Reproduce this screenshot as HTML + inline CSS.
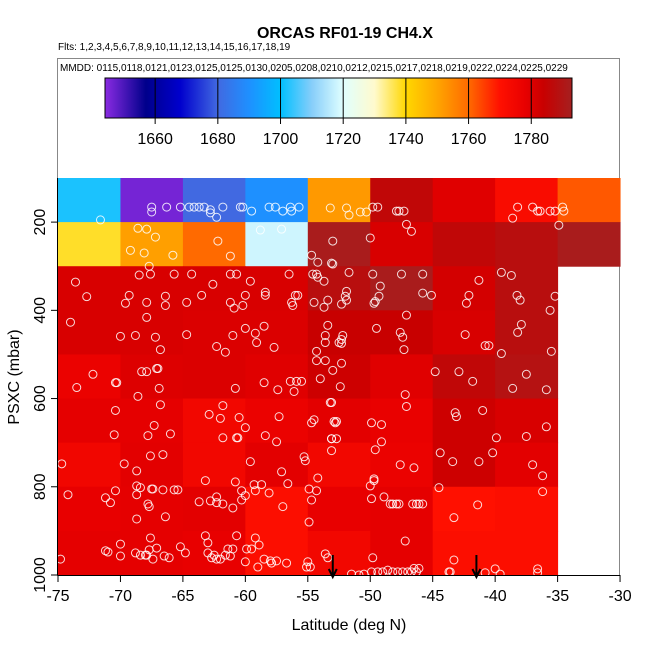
<!DOCTYPE html>
<html><head><meta charset="utf-8"><style>
body{margin:0;background:#fff;}
svg{display:block;font-family:"Liberation Sans",Arial,sans-serif;}
</style></head><body>
<svg id="chart" width="650" height="650" viewBox="0 0 650 650">
<defs><linearGradient id="cbgrad" x1="0" x2="1" y1="0" y2="0"></linearGradient></defs>
<text x="345" y="38" text-anchor="middle" font-size="16" font-weight="bold">ORCAS RF01-19 CH4.X</text>
<text x="58" y="50" font-size="10">Flts: 1,2,3,4,5,6,7,8,9,10,11,12,13,14,15,16,17,18,19</text>
<rect x="57.5" y="58.5" width="562" height="517" fill="none" stroke="#888"/>
<text x="60" y="71" font-size="10">MMDD: 0115,0118,0121,0123,0125,0125,0130,0205,0208,0210,0212,0215,0217,0218,0219,0222,0224,0225,0229</text>
<g id="cells"></g>
<g id="points"></g>
<g id="cbar"></g>
<g id="axes"></g>
<text x="349" y="630" text-anchor="middle" font-size="16">Latitude (deg N)</text>
<text transform="translate(19,377) rotate(-90)" text-anchor="middle" font-size="16">PSXC (mbar)</text>
</svg>
<script>
const latBins = [-75,-70,-65,-60,-55,-50,-45,-40,-35];
const presBins = [100,200,300,400,500,600,700,800,900];
const gridRow0 = [1702,1646,1680,1690,1752,1786,1779.5,1772,1762];
const gridRow1 = [1738,1751,1760,1718,1792,1781,1786,1788,1792];
const gridRow2 = [1781,1781,1781,1781,1788,1792,1782,1788,null];
const gridRow3 = [1781,1781,1780.5,1780.5,1784,1784,1781,1788,null];
const gridRow4 = [1777,1780,1780.5,1779.5,1783,1779.5,1786,1789,null];
const gridRow5 = [1778.5,1778.5,1774.5,1777,1779,1777.5,1783,1781,null];
const gridRow6 = [1775,1779,1774.5,1779,1774.5,1777,1783,1779,null];
const gridRow7 = [1778,1778.5,1779,1771,1778,1778.5,1770,1771,null];
const gridRow8 = [1778.5,1778.5,1778,1771,1774.5,1778.5,1771,1771,null];
const gridValues = [gridRow0,gridRow1,gridRow2,gridRow3,gridRow4,gridRow5,gridRow6,gridRow7,gridRow8];
const colorVals = [1644,1657,1668,1680,1690,1700,1710,1720,1730,1740,1750,1760,1770,1778,1784,1793];
const colorHex = ['#8a2be2','#00008b','#0000cd','#4169e1','#1e90ff','#00bfff','#87cefa','#e0ffff','#fffacd','#ffd700','#ffa500','#ff6a00','#ff1000','#e80000','#c80000','#a52020'];
const cbTicks = [1660,1680,1700,1720,1740,1760,1780];
const xTicks = [-75,-70,-65,-60,-55,-50,-45,-40,-35,-30];
const yTicks = [200,400,600,800,1000];
const arrowLats = [-53,-41.5];
const ptLat = [-71.6,-67.5,-67.5,-66.3,-65.2,-64.5,-64.1,-63.7,-63.3,-62.8,-62.8,-62.3,-61.8,-60.4,-60.2,-59.5,-58.1,-57.6,-57,-56.4,-56.3,-55.7,-53.2,
-68.6,-67.9,-67.2,-69.2,-68.1,-65.8,-62.2,-61.2,-58.8,-57.1,-53,-54.7,-54.2,-53,-67.7,
-73.6,-72.7,-68.5,-67.6,-65.7,-64.3,-61.2,-60.7,-62.6,-59.6,-56.5,-54.6,-54.3,-54.2,-53.7,-69.3,-69.6,-67.9,-66.4,-66.4,-64.7,-63.5,-61.2,-60.9,-60.2,-60,-58.4,-58.4,-56,-55.8,-56.2,-56.3,-54.5,-53.4,-53.7,
-74,-67.9,-70,-68.8,-67.2,-66.8,-64.7,-62.3,-61.6,-61,-60,-59.2,-58.5,-59.1,-57.7,-53.4,-53.6,-53.6,-54.3,-54.3,-53.6,-53,-72.2,-68.3,-67.9,-67.1,-67,
-51.9,-51.7,-50.8,-50.3,-49.8,-49.4,-47.9,-47.7,-47.3,-38.2,-38.6,-37,-36.6,-36.4,-35.6,-35.2,-34.6,-34.5,
-47.1,-46.7,-50,-53.1,-34.9,
-51.7,-49.8,-47.5,-45.8,-49.2,-49.3,-49.6,-49.7,-45.8,-45.1,-51.9,-52,-51.9,-52.3,-41.3,-42.1,-42.3,-39.5,-38.7,-38.25,-38,-35.2,-35.6,
-47.1,-49.5,-47.6,-47.4,-47.3,-52.2,-52.3,-52.5,-52.3,-42.4,-40.8,-40.5,-37.9,-38.2,-39.5,-35.5,-52.3,-44.8,-42.9,-37.5,
-73.5,-70.4,-70.3,-68.6,-66.9,-60.8,-58.5,-57.4,-56.4,-55.9,-55.5,-56.1,-54,
-70.4,-66.8,-62.9,-61.8,-62,-60.5,-60,-57.3,-67.3,-67.8,-66,-70.5,-61.8,-60.7,-60.6,-58.4,-57.5,-53.2,-54.5,-54.7,-52.8,
-74.7,-69.7,-67.6,-66.6,-68.7,-59.6,-57.1,-55.3,-55.2,-54.2,-56.6,-63.2,-60.8,-59.3,-58.7,-68.7,-68.4,-67.5,-67.4,-66.6,-65.7,-65.4,-70.4,-74.2,-71.2,-70.8,-68.7,-67.8,-67.7,-68.7,-66.4,-63.7,-62.8,-62.3,-62.3,-61.8,-61,-60.3,-60.3,-60,-59.2,-58.1,-57,-54.9,-54.3,-54.7,-54.9,
-70,-71.2,-71,-70,-68.8,-68.4,-68,-67.9,-67.7,-67.6,-67.4,-67.1,-66.5,-66.1,-65.2,-64.8,-74.8,-63.2,-63,-63,-62.7,-62.5,-62.3,-62,-61.6,-61.4,-61.2,-61,-60.7,-60,-59.9,-59.5,-59.2,-58.9,-59,-58.5,-58,-57.9,-57.5,-56.7,-55,-55.1,-54.8,-53.6,-53.4,
-52.4,-47.2,-47.1,-41.8,-38.6,-35.9,-53.1,-52.7,-52.9,-49.9,-49.1,-53.1,-52.7,-53.1,-49.1,-49.6,-53.1,-43.2,-43.1,-41,-39.9,-37.5,-35.9,-44.4,-43.4,-41.3,-40.2,-37,-36.2,-47.6,-46.5,-49.7,-49.7,-50,-44.5,-49.9,-48.9,-48.4,-48.2,-47.9,-47.7,-46.6,-46.3,-46.1,-45.8,-41.4,-43.3,-36.2,-47.2,-49.8,-43.3,
-49.9,-49.4,-49,-48.6,-48.2,-47.8,-47.4,-47,-46.7,-46.3,-46.5,-46.1,-43.7,-43.6,-40.8,-40,-39.6,-36.6,-36.6,-51.5,-50.9,-50.5];
const ptPres = [195,166,177,166,166,166,166,166,166,172,179,189,166,166,166,175,166,166,175,166,175,166,168,
214,216,234,264,270,275,243,277,218,216,243,275,291,295,300,
336,369,320,318,318,318,318,318,341,334,318,318,318,325,334,366,384,382,368,389,382,366,382,395,389,366,359,366,366,366,389,382,382,377,393,
427,416,459,457,461,489,455,482,495,457,441,452,436,473,484,434,457,473,493,514,514,536,545,539,539,532,532,
168,184,177,177,166,166,175,175,175,166,191,166,175,175,175,175,166,175,
205,221,236,293,207,
314,318,318,318,345,368,380,384,361,366,357,368,377,386,332,366,384,314,321,366,377,368,400,
411,441,450,461,489,457,466,473,475,455,480,480,432,450,498,493,520,539,539,545,
575,564,564,595,577,577,564,580,561,561,561,584,555,
627,614,636,616,645,643,666,641,661,684,680,682,689,689,689,684,698,609,648,655,655,
748,748,730,727,764,743,766,732,741,780,793,786,789,795,795,798,802,805,805,807,807,807,809,818,825,836,818,839,845,873,868,834,832,823,836,839,848,830,809,820,809,814,845,805,809,830,880,
930,945,948,957,950,955,955,955,943,916,964,939,957,961,936,950,964,911,927,950,961,955,964,964,955,941,957,941,911,970,941,941,916,932,982,964,968,973,968,973,970,982,982,952,961,
573,591,618,561,577,580,609,652,652,655,659,691,691,691,698,716,718,632,641,627,689,686,664,723,743,743,723,750,775,750,757,782,786,798,802,827,823,839,839,839,839,839,839,839,839,841,870,811,923,961,966,
993,993,993,989,993,993,993,993,993,993,985,985,993,993,995,986,998,986,995,998,1000,998];

const NS='http://www.w3.org/2000/svg';
function xS(lon){return 58+(lon+75)*12.49;}
function yS(p){return 178+(p-100)*0.4411;}
function cbX(v){return 105+(v-1644)*467/149;}
function hexToRgb(h){return [parseInt(h.substr(1,2),16),parseInt(h.substr(3,2),16),parseInt(h.substr(5,2),16)];}
function colorOf(v){
  if(v<=colorVals[0])return colorHex[0];
  for(let i=1;i<colorVals.length;i++){
    if(v<=colorVals[i]){
      const t=(v-colorVals[i-1])/(colorVals[i]-colorVals[i-1]);
      const a=hexToRgb(colorHex[i-1]),b=hexToRgb(colorHex[i]);
      return 'rgb('+a.map((c,k)=>Math.round(c+(b[k]-c)*t)).join(',')+')';
    }
  }
  return colorHex[colorHex.length-1];
}
function mk(tag,attrs,parent){const e=document.createElementNS(NS,tag);for(const k in attrs)e.setAttribute(k,attrs[k]);parent.appendChild(e);return e;}

const cells=document.getElementById('cells');
gridValues.forEach((row,ri)=>{row.forEach((v,ci)=>{
  if(v===null)return;
  const x0=xS(latBins[ci]),x1=xS(latBins[ci]+5),y0=yS(presBins[ri]),y1=yS(presBins[ri]+100);
  const r=mk('rect',{x:x0,y:y0,width:x1-x0+0.5,height:y1-y0+0.5,fill:colorOf(v)},cells);
  
  
});});

const pts=document.getElementById('points');
for(let i=0;i<ptLat.length;i++){
  const c=mk('circle',{cx:xS(ptLat[i]),cy:yS(ptPres[i]),r:4,fill:'none',stroke:'rgba(255,255,255,0.85)','stroke-width':1},pts);
  
  
}

const grad=document.getElementById('cbgrad');
colorVals.forEach((v,i)=>{mk('stop',{offset:((v-1644)/149*100)+'%','stop-color':colorHex[i]},grad);});
const cb=document.getElementById('cbar');
const cbr=mk('rect',{x:105,y:78,width:467,height:40,fill:'url(#cbgrad)',stroke:'#000','stroke-width':1},cb);


cbTicks.forEach(v=>{
  const l=mk('line',{x1:cbX(v),x2:cbX(v),y1:78,y2:124,stroke:'#000','stroke-width':1},cb);
  
  
  const t=mk('text',{x:cbX(v),y:144,'text-anchor':'middle','font-size':16},cb);
  t.textContent=v;
  
  
});

const ax=document.getElementById('axes');
const xl=mk('line',{x1:58,x2:620,y1:575.5,y2:575.5,stroke:'#000'},ax);


const yl=mk('line',{x1:57.5,x2:57.5,y1:178,y2:575,stroke:'#000'},ax);


xTicks.forEach(v=>{
  const l=mk('line',{x1:xS(v),x2:xS(v),y1:575,y2:582,stroke:'#000'},ax);
  
  
  const t=mk('text',{x:xS(v),y:601,'text-anchor':'middle','font-size':16},ax);
  t.textContent=v;
  
  
});
yTicks.forEach(v=>{
  const l=mk('line',{x1:51,x2:58,y1:yS(v),y2:yS(v),stroke:'#000'},ax);
  
  
  const t=mk('text',{transform:'translate(45,'+yS(v)+') rotate(-90)','text-anchor':'middle','font-size':16},ax);
  t.textContent=v;
  
  
});
arrowLats.forEach(v=>{
  const x=xS(v);
  const a=mk('path',{d:'M'+x+' 555 L'+x+' 576 M'+(x-4)+' 569 L'+x+' 577 L'+(x+4)+' 569',stroke:'#000','stroke-width':2,fill:'none'},ax);
  
  
});
</script>
</body></html>
